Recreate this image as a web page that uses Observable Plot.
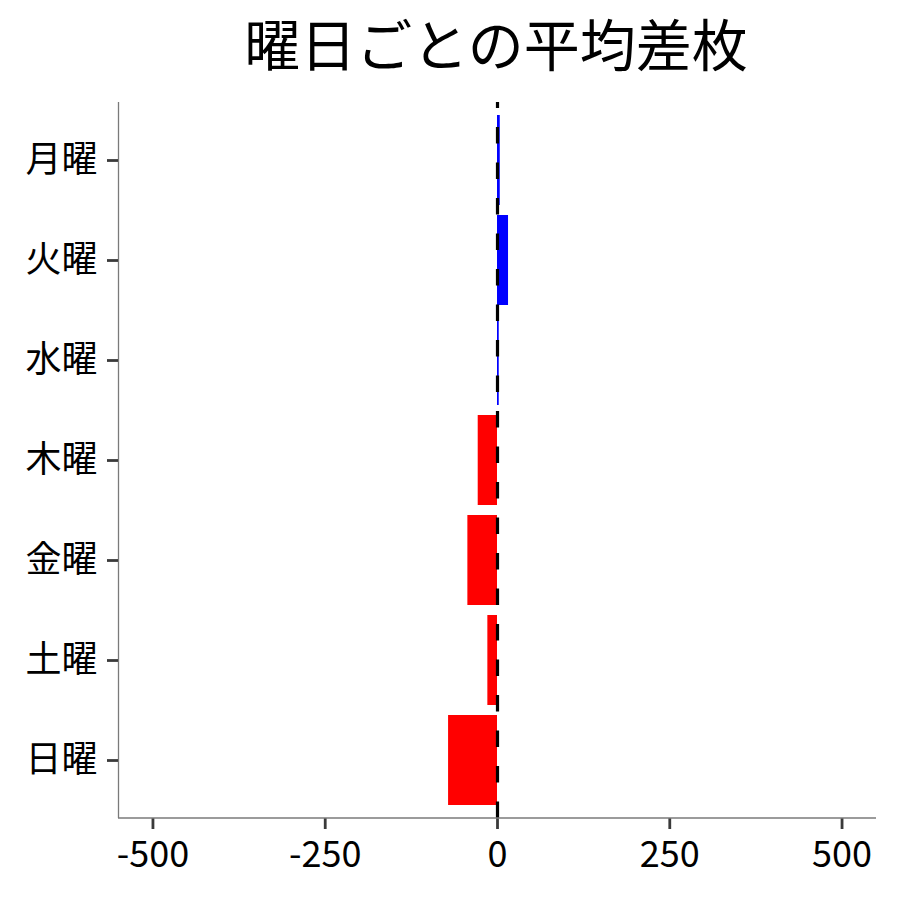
<!DOCTYPE html>
<html>
<head>
<meta charset="utf-8">
<script src="https://cdn.jsdelivr.net/npm/d3@7"></script>
<script src="https://cdn.jsdelivr.net/npm/@observablehq/plot@0.6"></script>
<style>
  html, body { margin: 0; padding: 0; background: #fff; }
  #wrap { width: 900px; height: 900px; position: relative; font-family: "Noto Sans CJK JP", "Noto Sans", sans-serif; }
  #title { position: absolute; left: 0; top: 0; width: 900px; height: 100px; }
  #title span { position: absolute; left: 496px; top: 1px; transform: translateX(-50%); font-size: 56px; line-height: normal; white-space: nowrap; color: #000; }
  #chart { position: absolute; left: 0; top: 100px; }
</style>
</head>
<body>
<div id="wrap">
  <div id="title"><span>曜日ごとの平均差枚</span></div>
  <div id="chart"></div>
</div>
<script>
const days = ["月曜", "火曜", "水曜", "木曜", "金曜", "土曜", "日曜"];
const values = [4, 16, 2.5, -28, -43, -14, -71];
const xTicks = [-500, -250, 0, 250, 500];

const data = days.map((d, i) => ({day: d, value: values[i]}));

const W = 900, H = 800, mt = 2, mb = 82, ml = 118, mr = 24;

const plot = Plot.plot({
  width: W, height: H,
  marginTop: mt, marginBottom: mb, marginLeft: ml, marginRight: mr,
  style: {fontFamily: '"Noto Sans CJK JP", "Noto Sans", sans-serif', background: "white"},
  x: {domain: [-550, 550], ticks: xTicks, label: null},
  y: {domain: days, paddingInner: 0.1, paddingOuter: 0.13, label: null},
  marks: [
    Plot.barX(data, {x: "value", y: "day", fill: d => d.value > 0 ? "#0000FF" : "#FF0000"}),
    Plot.ruleX([0], {stroke: "black", strokeWidth: 3.2, strokeDasharray: "16.5,19", strokeDashoffset: 10.5}),
    Plot.ruleX([-550], {stroke: "#7a7a7a", strokeWidth: 1.3}),
    Plot.axisX({ticks: xTicks, tickFormat: d => String(d), tickSize: 11, tickPadding: 12, fontSize: 36, stroke: "#3a3a3a", strokeWidth: 2.8, fill: "black", label: null}),
    Plot.axisY({tickSize: 11, tickPadding: 10, fontSize: 36, stroke: "#3a3a3a", strokeWidth: 2.8, fill: "black", label: null})
  ]
});

// bottom axis line along frame
d3.select(plot).append("line")
  .attr("x1", ml).attr("x2", W - mr)
  .attr("y1", H - mb).attr("y2", H - mb)
  .attr("stroke", "#7a7a7a").attr("stroke-width", 1.3);

document.getElementById("chart").appendChild(plot);
</script>
</body>
</html>
